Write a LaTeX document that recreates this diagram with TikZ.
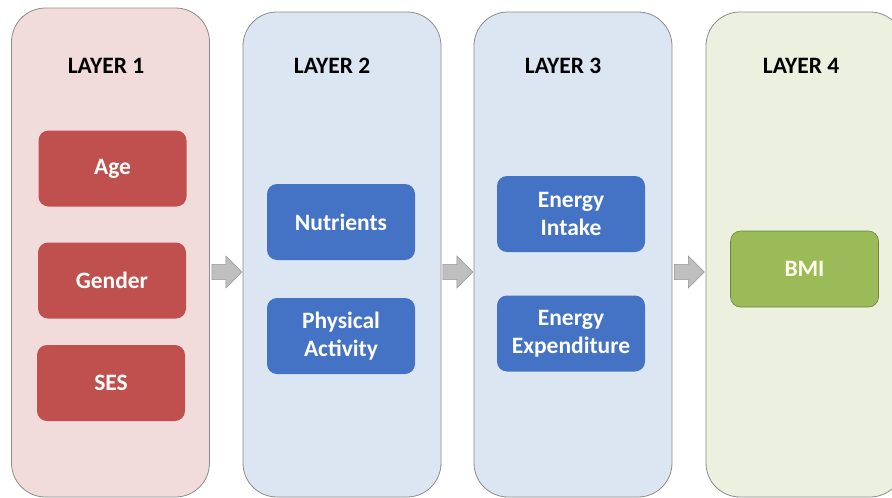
\documentclass[tikz,border=0pt]{standalone}
\usepackage{fontspec}
\setmainfont{Carlito}
\usetikzlibrary{shapes.arrows, positioning}
\definecolor{pinkbg}{HTML}{F2DCDB}
\definecolor{bluebg}{HTML}{DCE6F2}
\definecolor{greenbg}{HTML}{EBF1DE}
\definecolor{reditem}{HTML}{C0504D}
\definecolor{blueitem}{HTML}{4472C4}
\definecolor{greenitem}{HTML}{9BBB59}
\definecolor{edgegray}{HTML}{8C8C8C}

\begin{document}
\begin{tikzpicture}[x=1pt, y=-1pt,
    every node/.style={font=\fontsize{23.5}{28}\selectfont\bfseries},
    layerbox/.style={draw=edgegray, line width=0.8pt, rounded corners=34pt,
        minimum width=198pt, inner sep=0pt},
    layertitle/.style={text=black},
    itembox/.style={rounded corners=10pt, minimum width=148pt, minimum height=76pt,
        text=white, align=center, inner sep=0pt},
    flowarrow/.style={single arrow, draw=gray!85, fill=gray!50, line width=0.6pt,
        minimum height=30pt, minimum width=32pt, inner sep=7pt,
        single arrow head extend=8pt, anchor=tail}]
    \clip (0,0) rectangle (892,498);
    \fill[white] (0,0) rectangle (892,498);

    % layers
    \node[layerbox, fill=pinkbg, minimum height=489pt] (l1) at (110.5,252.5) {};
    \node[layerbox, fill=bluebg, minimum height=485pt] (l2) at (342,254.5) {};
    \node[layerbox, fill=bluebg, minimum height=485pt] (l3) at (573,254.5) {};
    \node[layerbox, fill=greenbg, minimum height=485pt] (l4) at (805,254.5) {};

    \node[layertitle] (t1) at (106,66) {LAYER 1};
    \node[layertitle] (t2) at (332,66) {LAYER 2};
    \node[layertitle] (t3) at (563,66) {LAYER 3};
    \node[layertitle] (t4) at (801,66) {LAYER 4};

    % items
    \node[itembox, fill=reditem] (age) at (112.5,168.5) {Age};
    \node[itembox, fill=reditem] (gender) at (112,280.5) {Gender};
    \node[itembox, fill=reditem] (ses) at (111,383) {SES};

    \node[itembox, fill=blueitem] (nutr) at (341,222) {Nutrients};
    \node[itembox, fill=blueitem] (phys) at (341,336) {Physical\\Activity};

    \node[itembox, fill=blueitem] (intake) at (571,214) {Energy\\Intake};
    \node[itembox, fill=blueitem] (expend) at (571,333.5) {Energy\\Expenditure};

    \node[itembox, fill=greenitem, draw=greenitem!70!black, line width=0.6pt,
        text=white!92!yellow] (bmi) at (804.5,269) {BMI};

    % arrows
    \node[flowarrow] (a12) at (211.5,272) {};
    \node[flowarrow] (a23) at (442.5,272) {};
    \node[flowarrow] (a34) at (674,272) {};

\end{tikzpicture}
\end{document}
